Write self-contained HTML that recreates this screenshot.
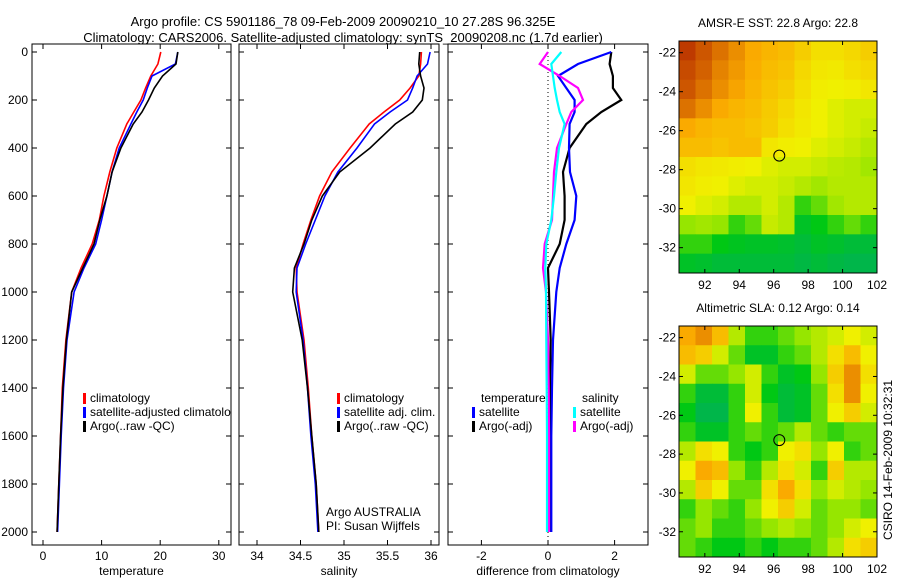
<!DOCTYPE html>
<html><head><meta charset="utf-8"><style>
body{margin:0;background:#fff;}
svg{display:block;font-family:"Liberation Sans",sans-serif;}
text{font-size:12px;fill:#000;}
</style></head><body>
<svg id="fig" width="900" height="580" viewBox="0 0 900 580">
<defs>
<clipPath id="c1"><rect x="32" y="44" width="199" height="501"/></clipPath>
<clipPath id="c2"><rect x="239" y="44" width="200" height="501"/></clipPath>
<clipPath id="c3"><rect x="448" y="44" width="200" height="501"/></clipPath>
</defs>
<text x="343" y="26" text-anchor="middle" style="font-size:13px">Argo profile: CS 5901186_78 09-Feb-2009 20090210_10 27.28S 96.325E</text>
<text x="343" y="42" text-anchor="middle" style="font-size:13px">Climatology: CARS2006. Satellite-adjusted climatology: synTS_20090208.nc (1.7d earlier)</text>
<g id="g1"></g>
<g id="g2"></g>
<g id="g3"></g>
<g id="m1"></g>
<g id="m2"></g>
<text transform="translate(892,460) rotate(-90)" text-anchor="middle">CSIRO 14-Feb-2009 10:32:31</text>
</svg>
<script>
// ---- profile data ----
const depths = [0,50,100,150,200,250,300,400,500,600,700,800,900,1000,1200,1400,1600,1800,2000];
const tempClim = [20.1,19.6,18.4,17.5,16.7,15.5,14.3,12.6,11.4,10.4,9.6,8.4,6.5,4.9,3.9,3.3,3.0,2.7,2.4];
const tempSat  = [23.0,22.6,18.6,17.8,17.1,16.0,15.0,13.0,11.8,10.9,10.0,9.0,7.0,5.3,4.1,3.5,3.1,2.8,2.5];
const tempArgo = [23.0,22.7,20.4,19.0,18.0,16.9,15.4,13.3,11.8,10.9,9.7,8.7,6.8,4.9,4.0,3.4,3.0,2.7,2.4];
const salClim = [35.89,35.88,35.86,35.76,35.64,35.46,35.29,35.07,34.86,34.72,34.62,34.53,34.45,34.46,34.54,34.59,34.63,34.68,34.71];
const salSat  = [35.99,35.96,35.84,35.79,35.73,35.53,35.35,35.15,34.93,34.78,34.67,34.56,34.46,34.45,34.53,34.58,34.62,34.67,34.70];
const salArgo = [35.87,35.86,35.88,35.92,35.90,35.79,35.59,35.30,34.95,34.75,34.63,34.54,34.43,34.41,34.52,34.58,34.63,34.68,34.71];
const dTempSat  = [1.9,0.9,0.3,0.55,0.8,0.8,0.65,0.63,0.66,0.85,0.8,0.55,0.35,0.25,0.15,0.12,0.1,0.1,0.1];
const dTempArgo = [1.9,1.85,1.95,1.95,2.2,1.6,1.15,0.65,0.45,0.5,0.5,0.35,0.0,0.03,0.08,0.06,0.05,0.05,0.05];
const dSalSat   = [0.4,0.1,0.15,0.2,0.27,0.35,0.5,0.33,0.25,0.18,0.1,-0.05,-0.08,-0.06,-0.05,-0.04,-0.03,-0.03,-0.03];
const dSalArgo  = [0.0,-0.25,0.35,0.9,1.05,0.7,0.55,0.27,0.18,0.15,0.12,-0.1,-0.15,-0.06,0.0,0.02,0.03,0.03,0.03];
const depthTicks = [0,200,400,600,800,1000,1200,1400,1600,1800,2000];
const tempTicks = [0,10,20,30];
const salTicks = [34,34.5,35,35.5,36];
const diffTicks = [-2,0,2];
// ---- map data (colour index 0..1) ----
const sstGrid = [
[.95,.9,.85,.8,.75,.72,.7,.65,.6,.6,.62,.65],
[.92,.88,.82,.78,.74,.7,.68,.62,.58,.57,.6,.62],
[.9,.85,.8,.76,.72,.68,.65,.6,.56,.55,.56,.58],
[.85,.8,.75,.72,.7,.66,.62,.58,.55,.52,.5,.5],
[.75,.72,.7,.7,.68,.65,.6,.57,.55,.52,.5,.48],
[.7,.7,.68,.7,.7,.58,.56,.55,.52,.5,.48,.45],
[.6,.58,.57,.56,.55,.52,.5,.5,.48,.46,.45,.42],
[.58,.56,.55,.52,.5,.5,.48,.45,.42,.45,.45,.45],
[.55,.52,.5,.45,.45,.5,.45,.3,.35,.42,.45,.45],
[.4,.42,.4,.3,.35,.48,.45,.2,.25,.3,.35,.3],
[.3,.3,.25,.22,.2,.2,.18,.15,.2,.18,.15,.15],
[.2,.18,.15,.15,.15,.15,.15,.12,.15,.12,.1,.1]];
const slaGrid = [
[.75,.8,.7,.45,.3,.3,.35,.4,.45,.5,.55,.5],
[.7,.65,.5,.35,.2,.2,.3,.35,.45,.6,.7,.55],
[.5,.35,.35,.4,.5,.3,.2,.25,.4,.65,.8,.6],
[.3,.15,.15,.3,.5,.25,.15,.2,.35,.6,.8,.55],
[.25,.1,.1,.3,.55,.3,.15,.2,.35,.55,.65,.5],
[.3,.2,.2,.3,.35,.3,.35,.45,.35,.3,.35,.35],
[.45,.6,.55,.3,.25,.3,.55,.6,.4,.55,.3,.35],
[.55,.75,.7,.4,.3,.45,.6,.5,.3,.65,.45,.45],
[.45,.65,.55,.35,.35,.6,.75,.6,.4,.5,.45,.4],
[.3,.4,.35,.3,.4,.55,.65,.5,.35,.4,.4,.35],
[.35,.4,.3,.3,.35,.4,.45,.4,.35,.4,.5,.55],
[.35,.3,.25,.25,.3,.25,.3,.3,.35,.45,.6,.65]];
const lonTicks = [92,94,96,98,100,102];
const latTicks = [-22,-24,-26,-28,-30,-32];
const argoLon = 96.325, argoLat = -27.28;

const NS='http://www.w3.org/2000/svg';
function mk(parent,tag,attrs,txt){const e=document.createElementNS(NS,tag);for(const k in attrs)e.setAttribute(k,attrs[k]);if(txt!==undefined)e.textContent=txt;parent.appendChild(e);return e;}
const yD = d => 52 + 0.24*d;
const PT={top:44,bottom:545};

function panel(g,x0,x1,xs,xTicks,xLabel,clip,leftLabels,fmt){
  mk(g,'rect',{x:x0,y:PT.top,width:x1-x0,height:PT.bottom-PT.top,fill:'none',stroke:'#000','stroke-width':1});
  depthTicks.forEach(d=>{
    const y=yD(d);
    const t1=mk(g,'line',{x1:x0,x2:x0+5,y1:y,y2:y,stroke:'#000'});
    
    
    mk(g,'line',{x1:x1-5,x2:x1,y1:y,y2:y,stroke:'#000'});
    if(leftLabels){const t=mk(g,'text',{x:x0-4,y:y+4,'text-anchor':'end'},String(d));
      
      }
  });
  xTicks.forEach(v=>{
    const x=xs(v);
    mk(g,'line',{x1:x,x2:x,y1:PT.bottom,y2:PT.bottom-5,stroke:'#000'});
    mk(g,'line',{x1:x,x2:x,y1:PT.top,y2:PT.top+5,stroke:'#000'});
    const t=mk(g,'text',{x:x,y:PT.bottom+15,'text-anchor':'middle'},fmt(v));
    
    
  });
  const l=mk(g,'text',{x:(x0+x1)/2,y:575,'text-anchor':'middle'},xLabel);
  
  
  return mk(g,'g',{'clip-path':'url(#'+clip+')'});
}
function series(g,xs,vals,color,w,name){
  const pts=depths.map((d,i)=>xs(vals[i]).toFixed(1)+','+yD(d).toFixed(1)).join(' ');
  const p=mk(g,'polyline',{points:pts,fill:'none',stroke:color,'stroke-width':w});
  
  
}
function legend(g,x,y,color,label,name){
  if(color) mk(g,'rect',{x:x,y:y-9,width:3,height:11,fill:color});
  const t=mk(g,'text',{x:x+7,y:y},label);
  
  
}
// panel 1
const xT=v=>43+5.86*v;
const c1=panel(document.getElementById('g1'),32,231,xT,tempTicks,'temperature','c1',true,v=>String(v));
series(c1,xT,tempClim,'#f00',1.6,'temp-climatology-line');
series(c1,xT,tempSat,'#00f',1.6,'temp-satellite-line');
series(c1,xT,tempArgo,'#000',1.6,'temp-argo-line');
legend(c1,83,402,'#f00','climatology','legend-climatology');
legend(c1,83,416,'#00f','satellite-adjusted climatology','legend-satellite');
legend(c1,83,430,'#000','Argo(..raw -QC)','legend-argo');
// panel 2
const xS=v=>257+87*(v-34);
const c2=panel(document.getElementById('g2'),239,439,xS,salTicks,'salinity','c2',false,v=>String(v));
series(c2,xS,salClim,'#f00',1.6,'sal-climatology-line');
series(c2,xS,salSat,'#00f',1.6,'sal-satellite-line');
series(c2,xS,salArgo,'#000',1.6,'sal-argo-line');
legend(c2,337,402,'#f00','climatology','legend-climatology');
legend(c2,337,416,'#00f','satellite adj. clim.','legend-satellite');
legend(c2,337,430,'#000','Argo(..raw -QC)','legend-argo');
legend(c2,319,516,null,'Argo AUSTRALIA','argo-australia-label');
legend(c2,319,530,null,'PI: Susan Wijffels','pi-label');
// panel 3
const xD=v=>548+33.3*v;
const c3=panel(document.getElementById('g3'),448,648,xD,diffTicks,'difference from climatology','c3',false,v=>String(v));
mk(c3,'line',{x1:xD(0),x2:xD(0),y1:PT.top,y2:PT.bottom,stroke:'#000','stroke-dasharray':'1,3'});
series(c3,xD,dTempArgo,'#000',2.2,'diff-temp-argo-line');
series(c3,xD,dTempSat,'#00f',2.2,'diff-temp-satellite-line');
series(c3,xD,dSalArgo,'#f0f',2.2,'diff-sal-argo-line');
series(c3,xD,dSalSat,'#0ff',2.2,'diff-sal-satellite-line');
legend(c3,474,402,null,'temperature','legend-temperature-heading');
legend(c3,472,416,'#00f','satellite','legend-temp-satellite');
legend(c3,472,430,'#000','Argo(-adj)','legend-temp-argo');
legend(c3,575,402,null,'salinity','legend-salinity-heading');
legend(c3,573,416,'#0ff','satellite','legend-sal-satellite');
legend(c3,573,430,'#f0f','Argo(-adj)','legend-sal-argo');

// maps
const stops=[[0,[0,170,110]],[.25,[0,200,20]],[.4,[150,230,0]],[.55,[240,240,0]],[.75,[250,170,0]],[1,[175,30,0]]];
function cmap(v){for(let i=1;i<stops.length;i++){if(v<=stops[i][0]){const a=stops[i-1],b=stops[i],t=(v-a[0])/(b[0]-a[0]);
  return 'rgb('+a[1].map((c,k)=>Math.round(c+(b[1][k]-c)*t)).join(',')+')';}}return 'rgb(175,30,0)';}
function map(g,top,bottom,grid,title,name){
  const x0=679,x1=877,lon0=90.5,lon1=102.0,lat0=-21.4,lat1=-33.3;
  const xs=v=>x0+(v-lon0)/(lon1-lon0)*(x1-x0);
  const ys=v=>top+(v-lat0)/(lat1-lat0)*(bottom-top);
  const rows=grid.length,cols=grid[0].length,cw=(x1-x0)/cols,ch=(bottom-top)/rows;
  grid.forEach((r,i)=>r.forEach((v,j)=>{
    const c=mk(g,'rect',{x:(x0+j*cw).toFixed(2),y:(top+i*ch).toFixed(2),width:(cw+0.5).toFixed(2),height:(ch+0.5).toFixed(2),fill:cmap(v)});
    
    
  }));
  mk(g,'rect',{x:x0,y:top,width:x1-x0,height:bottom-top,fill:'none',stroke:'#000'});
  lonTicks.forEach(v=>{const x=xs(v);mk(g,'line',{x1:x,x2:x,y1:bottom,y2:bottom-4,stroke:'#000'});mk(g,'line',{x1:x,x2:x,y1:top,y2:top+4,stroke:'#000'});
    const t=mk(g,'text',{x:x,y:bottom+16,'text-anchor':'middle'},String(v));
    
    });
  latTicks.forEach(v=>{const y=ys(v);mk(g,'line',{x1:x0,x2:x0+4,y1:y,y2:y,stroke:'#000'});mk(g,'line',{x1:x1-4,x2:x1,y1:y,y2:y,stroke:'#000'});
    const t=mk(g,'text',{x:x0-3,y:y+4,'text-anchor':'end'},String(v));
    
    });
  const c=mk(g,'circle',{cx:xs(argoLon),cy:ys(argoLat),r:5.5,fill:'none',stroke:'#000'});
  
  
  const t=mk(g,'text',{x:(x0+x1)/2,y:top-14,'text-anchor':'middle'},title);
  
  
}
map(document.getElementById('m1'),41,273,sstGrid,'AMSR-E SST: 22.8 Argo: 22.8','sst-map');
map(document.getElementById('m2'),326,557,slaGrid,'Altimetric SLA: 0.12 Argo: 0.14','sla-map');
</script>
</body></html>
